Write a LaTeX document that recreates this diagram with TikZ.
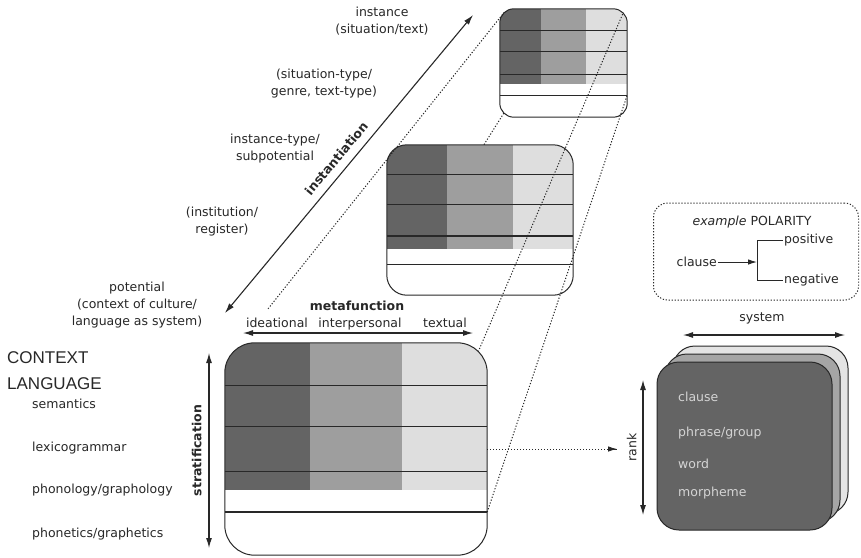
\documentclass[tikz,border=0pt]{standalone}
\usepackage{fontspec}
\setmainfont{DejaVu Sans}
\newfontfamily\headfont{Liberation Sans}
\usetikzlibrary{arrows.meta,calc}

\definecolor{inkc}{RGB}{40,40,40}
\definecolor{ideafill}{RGB}{100,100,100}
\definecolor{interfill}{RGB}{158,158,158}
\definecolor{textfill}{RGB}{222,222,222}
\definecolor{rankfront}{RGB}{100,100,100}
\definecolor{rankmid}{RGB}{165,165,165}
\definecolor{rankback}{RGB}{228,228,228}
\definecolor{ranktext}{RGB}{212,212,212}

% one box of the instantiation cline: three metafunction columns, strata lines
\newcommand\layerbox[2]{%
  \coordinate (#1cA) at ($(#1.north west)!0.325!(#1.north east)$);
  \coordinate (#1cB) at ($(#1.north west)!0.675!(#1.north east)$);
  \coordinate (#1sh) at ($(#1.north west)!0.693!(#1.south west)$);
  \begin{scope}
    \clip[rounded corners=#2] (#1.north west) rectangle (#1.south east);
    \fill[white] (#1.north west) rectangle (#1.south east);
    \fill[ideafill] (#1.north west) rectangle (#1cA |- #1sh);
    \fill[interfill] (#1cA) rectangle (#1cB |- #1sh);
    \fill[textfill] (#1cB) rectangle (#1.north east |- #1sh);
  \end{scope}
  \foreach \f in {0.2,0.395,0.607,0.797}
    \draw[stratline] ($(#1.north west)!\f!(#1.south west)$) -- ($(#1.north east)!\f!(#1.south east)$);
  \draw[boxline, rounded corners=#2] (#1.north west) rectangle (#1.south east);
}

\begin{document}
\begin{tikzpicture}[x=1pt,y=-1pt,
  lbl/.style={font=\fontsize{12.5}{17}\selectfont, text=inkc, inner sep=0pt},
  boldlbl/.style={font=\fontsize{12.5}{17}\selectfont\bfseries, text=inkc, inner sep=0pt},
  headlbl/.style={font=\headfont\fontsize{17}{20}\selectfont, text=inkc, inner sep=0pt},
  ranklbl/.style={font=\fontsize{12.5}{17}\selectfont, text=ranktext, inner sep=0pt},
  boxline/.style={draw=inkc, line width=1pt},
  stratline/.style={draw=inkc, line width=1.2pt},
  dotline/.style={draw=inkc, line width=1pt, dash pattern=on 1.2pt off 1.8pt},
  dblarrow/.style={{Latex[length=10pt,width=6pt]}-{Latex[length=10pt,width=6pt]}, draw=inkc, line width=1.1pt},
  onearrow/.style={-{Latex[length=9pt,width=5.5pt]}, draw=inkc, line width=1pt},
  rankbox/.style={draw=inkc, line width=1pt, rounded corners=22pt, minimum width=175pt, minimum height=168pt, inner sep=0pt},
]
\useasboundingbox (0,0) rectangle (861,557);
\fill[white] (0,0) rectangle (861,557);

% --- the three boxes along the cline of instantiation ---
\node[inner sep=0pt, minimum width=127pt, minimum height=108pt] (top) at (563.5,63) {};
\node[inner sep=0pt, minimum width=186pt, minimum height=150pt] (mid) at (480,220) {};
\node[inner sep=0pt, minimum width=262pt, minimum height=212pt] (big) at (356,449) {};

% perspective line running behind the middle box
\draw[dotline] ($(top.south west)+(4,-4)$) -- ($(mid.south west)+(6,-6)$);

\layerbox{top}{14pt}
\layerbox{mid}{20pt}
\layerbox{big}{30pt}

% perspective lines over the boxes
\draw[dotline, shorten <=55pt] ($(big.north west)+(9,9)$) -- ($(top.north west)+(4,4)$);
\draw[dotline] ($(big.north east)+(-9,9)$) -- ($(top.north east)+(-4,4)$);
\draw[dotline] ($(big.north east)!0.797!(big.south east)$) -- ($(top.north east)!0.797!(top.south east)$);

% --- instantiation ---
\coordinate (instlow) at (225,313);
\coordinate (insthigh) at (473,15);
\draw[dblarrow] (instlow) -- node[boldlbl, sloped, above=8pt, pos=0.49] (instlabel) {instantiation} (insthigh);

\node[lbl, align=center] (instlbl) at (382,21) {instance\\(situation/text)};
\node[lbl, align=center] (genrelbl) at (324,83.5) {(situation-type/\\genre, text-type)};
\node[lbl, align=center] (subpotlbl) at (275,148.5) {instance-type/\\subpotential};
\node[lbl, align=center] (reglbl) at (222,221.5) {(institution/\\register)};
\node[lbl, align=center] (potlbl) at (137,305) {potential\\(context of culture/\\language as system)};

% --- metafunction ---
\node[boldlbl, anchor=base] (mflbl) at (357,310.5) {metafunction};
\node[lbl, anchor=base] (idealbl) at (277,327.5) {ideational};
\node[lbl, anchor=base] (interlbl) at (360,327.5) {interpersonal};
\node[lbl, anchor=base] (textlbl) at (445,327.5) {textual};
\coordinate (mfleft) at (243,333);
\coordinate (mfright) at (473,333);
\draw[dblarrow] (mfleft) -- (mfright);

% --- stratification ---
\coordinate (sttop) at (209,353);
\coordinate (stbot) at (209,548);
\draw[dblarrow] (stbot) -- node[boldlbl, sloped, above=7pt, midway] (stlabel) {stratification} (sttop);

\node[headlbl, anchor=west] (ctxlbl) at (7,357.5) {CONTEXT};
\node[headlbl, anchor=west] (langlbl) at (7,383.5) {LANGUAGE};
\node[lbl, anchor=base west] (semlbl) at (32,408.5) {semantics};
\node[lbl, anchor=base west] (lglbl) at (32,451.5) {lexicogrammar};
\node[lbl, anchor=base west] (phonlbl) at (32,493.5) {phonology/graphology};
\node[lbl, anchor=base west] (phetlbl) at (32,537.5) {phonetics/graphetics};

% --- system example ---
\node[draw=inkc, line width=1pt, dash pattern=on 1.2pt off 1.8pt, rounded corners=14pt,
      minimum width=205pt, minimum height=97pt, inner sep=0pt] (exbox) at (756,251.5) {};
\node[lbl, anchor=base] (exhead) at (752,225.5) {\textit{example} POLARITY};
\node[lbl, anchor=east, inner sep=1pt] (exclause) at (718,262) {clause};
\node[lbl, anchor=west, inner sep=1pt] (expos) at (783,240) {positive};
\node[lbl, anchor=west, inner sep=1pt] (exneg) at (783,280) {negative};
\coordinate (brk) at (757,262);
\draw[onearrow] (exclause.east) -- (brk);
\draw[draw=inkc, line width=1pt] (expos.west) -| (brk) |- (exneg.west);

% --- system and rank ---
\node[lbl, anchor=base] (syslbl) at (762,321.5) {system};
\coordinate (sysleft) at (683,335);
\coordinate (sysright) at (845,335);
\draw[dblarrow] (sysleft) -- (sysright);

\node[rankbox, fill=rankback] (rankC) at (760.5,430) {};
\node[rankbox, fill=rankmid] (rankB) at (752.5,438) {};
\node[rankbox, fill=rankfront] (rankA) at (744.5,446) {};

\node[ranklbl, anchor=base west] (rclause) at (678,401.5) {clause};
\node[ranklbl, anchor=base west] (rphrase) at (678,436.5) {phrase/group};
\node[ranklbl, anchor=base west] (rword) at (678,468.5) {word};
\node[ranklbl, anchor=base west] (rmorph) at (678,496.5) {morpheme};

\coordinate (rklow) at (643,515);
\coordinate (rkhigh) at (643,380);
\draw[dblarrow] (rklow) -- node[lbl, sloped, above=6pt, midway] (rklbl) {rank} (rkhigh);

% stratal box feeds the rank scale
\coordinate (rankin) at (617,449);
\draw[dotline] (big.east) -- (rankin);
\draw[onearrow, line width=0.9pt] ($(rankin)+(-1,0)$) -- (rankin);
\end{tikzpicture}
\end{document}
